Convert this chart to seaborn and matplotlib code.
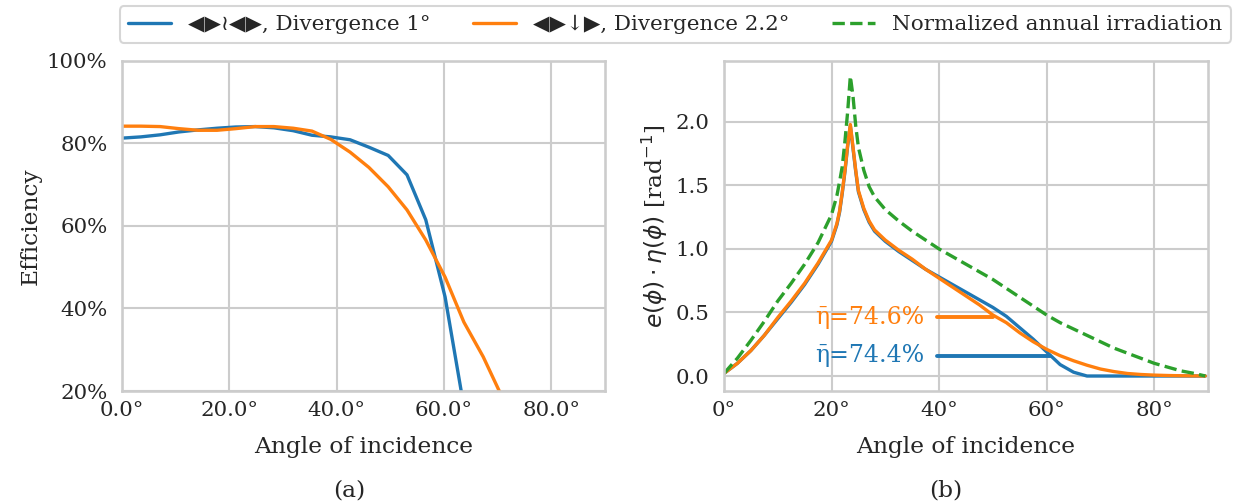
import numpy as np
import pandas as pd
import matplotlib
matplotlib.use("Agg")
import matplotlib.pyplot as plt
import seaborn as sns
from matplotlib.ticker import FuncFormatter, MultipleLocator

# ---------------- data ----------------
# (a) efficiency vs angle of incidence
eff_angles = [0, 3.5, 7.1, 10.6, 14.2, 17.7, 21.2, 24.8, 28.3, 31.9, 35.4, 38.9,
              42.5, 46.0, 49.6, 53.1, 56.6, 60.2, 63.7, 67.3, 70.8]
eff_blue = [81.3, 81.6, 82.1, 82.8, 83.3, 83.7, 84.0, 84.1, 83.8, 83.1, 82.0, 81.6,
            80.9, 79.1, 77.1, 72.4, 61.5, 42.8, 16.2, 0.0, 0.0]
eff_orange = [84.2, 84.2, 84.1, 83.6, 83.2, 83.2, 83.6, 84.1, 84.1, 83.7, 83.0, 81.0,
              77.9, 74.2, 69.5, 63.9, 56.6, 47.6, 36.7, 28.3, 18.6]

# (b) weighted efficiency and normalized irradiation
w_angles = [0, 2.5, 5, 7.5, 10, 12.5, 15, 17.5, 20, 21, 21.5, 22, 22.5, 23, 23.5,
            24, 24.5, 25, 26, 27, 28, 30, 32.5, 35, 37.5, 40, 42.5, 45, 47.5, 50,
            52.5, 55, 57.5, 60, 62.5, 65, 67.5, 70, 72.5, 75, 77.5, 80, 82.5, 85,
            87.5, 89.5]
irr_green = [0.02, 0.14, 0.28, 0.43, 0.59, 0.73, 0.88, 1.05, 1.27, 1.42, 1.53, 1.65,
             1.85, 2.08, 2.36, 2.20, 1.97, 1.80, 1.62, 1.49, 1.41, 1.31, 1.22, 1.14,
             1.07, 1.00, 0.94, 0.88, 0.82, 0.76, 0.69, 0.62, 0.55, 0.48, 0.42, 0.37,
             0.32, 0.27, 0.22, 0.18, 0.14, 0.10, 0.07, 0.04, 0.02, 0.0]
w_orange = [0.02, 0.10, 0.20, 0.32, 0.46, 0.59, 0.73, 0.89, 1.07, 1.20, 1.30, 1.45,
            1.62, 1.82, 1.98, 1.80, 1.62, 1.46, 1.32, 1.22, 1.15, 1.07, 0.99, 0.92,
            0.84, 0.77, 0.70, 0.63, 0.56, 0.48, 0.42, 0.34, 0.27, 0.21, 0.16, 0.12,
            0.085, 0.055, 0.035, 0.02, 0.012, 0.007, 0.004, 0.002, 0.001, 0.0]
w_blue = [0.02, 0.10, 0.20, 0.32, 0.45, 0.58, 0.72, 0.88, 1.06, 1.19, 1.29, 1.44,
          1.61, 1.81, 1.97, 1.79, 1.61, 1.45, 1.31, 1.21, 1.14, 1.06, 0.98, 0.91,
          0.84, 0.78, 0.72, 0.66, 0.60, 0.54, 0.47, 0.38, 0.29, 0.19, 0.09, 0.03,
          0.0, 0.0, 0.0, 0.0, 0.0, 0.0, 0.0, 0.0, 0.0, 0.0]

# mean efficiency markers
eta_labels = ["\u03b7\u0304=74.6%", "\u03b7\u0304=74.4%"]
eta_level = [0.464, 0.158]
eta_x_start = [39.6, 39.6]
eta_x_end = [50.0, 60.6]
eta_text_x = [37.3, 37.3]

legend_labels = ["\u25c0\u25b6\u2240\u25c0\u25b6, Divergence 1\u00b0",
                 "\u25c0\u25b6\u2193\u25b6, Divergence 2.2\u00b0",
                 "Normalized annual irradiation"]

# ---------------- style ----------------
sns.set_theme(context="talk", style="whitegrid")
plt.rcParams["font.family"] = ["DejaVu Serif", "DejaVu Sans"]
plt.rcParams.update({
    "axes.labelsize": 16.8,
    "xtick.labelsize": 15.4,
    "ytick.labelsize": 15.4,
    "legend.fontsize": 15.4,
    "lines.linewidth": 2.4,
})
BLUE, ORANGE, GREEN = "#1f77b4", "#ff7f0e", "#2ca02c"

fig = plt.figure(figsize=(12.39, 5.04), dpi=100)
ax1 = fig.add_axes([0.0985, 0.2242, 0.3898, 0.6548])
ax2 = fig.add_axes([0.5843, 0.2242, 0.3907, 0.6548])

# (a)
df_a = pd.DataFrame({"angle": eff_angles,
                     "blue": np.array(eff_blue) / 100,
                     "orange": np.array(eff_orange) / 100})
sns.lineplot(data=df_a, x="angle", y="blue", ax=ax1, color=BLUE, lw=2.4)
sns.lineplot(data=df_a, x="angle", y="orange", ax=ax1, color=ORANGE, lw=2.4)
ax1.set_xlim(0, 90)
ax1.set_ylim(0.2, 1.0)
ax1.xaxis.set_major_locator(MultipleLocator(20))
ax1.yaxis.set_major_locator(MultipleLocator(0.2))
ax1.xaxis.set_major_formatter(FuncFormatter(lambda v, p: f"{v:.1f}\u00b0"))
ax1.yaxis.set_major_formatter(FuncFormatter(lambda v, p: f"{v*100:.0f}%"))
ax1.set_xlabel("Angle of incidence", labelpad=12)
ax1.set_ylabel("Efficiency")

# (b)
df_b = pd.DataFrame({"angle": w_angles, "blue": w_blue,
                     "orange": w_orange, "green": irr_green})
sns.lineplot(data=df_b, x="angle", y="blue", ax=ax2, color=BLUE, lw=2.4,
             label=legend_labels[0], legend=False)
sns.lineplot(data=df_b, x="angle", y="orange", ax=ax2, color=ORANGE, lw=2.4,
             label=legend_labels[1], legend=False)
sns.lineplot(data=df_b, x="angle", y="green", ax=ax2, color=GREEN, lw=2.4,
             linestyle="--", label=legend_labels[2], legend=False)
for lab, lev, xs, xe, tx, col in zip(eta_labels, eta_level, eta_x_start,
                                     eta_x_end, eta_text_x, [ORANGE, BLUE]):
    ax2.plot([xs, xe], [lev, lev], color=col, lw=2.8)
    ax2.text(tx, lev, lab, color=col, ha="right", va="center", fontsize=17)
ax2.set_xlim(0, 90)
ax2.set_ylim(-0.118, 2.48)
ax2.xaxis.set_major_locator(MultipleLocator(20))
ax2.yaxis.set_major_locator(MultipleLocator(0.5))
ax2.xaxis.set_major_formatter(FuncFormatter(lambda v, p: f"{v:.0f}\u00b0"))
ax2.set_xlabel("Angle of incidence", labelpad=12)
ax2.set_ylabel(r"$e(\phi)\cdot\eta(\phi)$ [rad$^{-1}$]")

for ax in (ax1, ax2):
    ax.tick_params(axis="y", length=0, pad=10.5)
    ax.tick_params(axis="x", length=0, pad=7)

handles, labels = ax2.get_legend_handles_labels()
fig.legend(handles[:3], legend_labels, loc="upper center",
           bbox_to_anchor=(0.545, 1.0), ncol=3, frameon=True,
           handlelength=2.0, columnspacing=2.0, borderaxespad=0.3)

fig.text(0.282, 0.027, "(a)", ha="center", va="center", fontsize=16.8)
fig.text(0.763, 0.027, "(b)", ha="center", va="center", fontsize=16.8)

fig.savefig("out.png", dpi=100)
